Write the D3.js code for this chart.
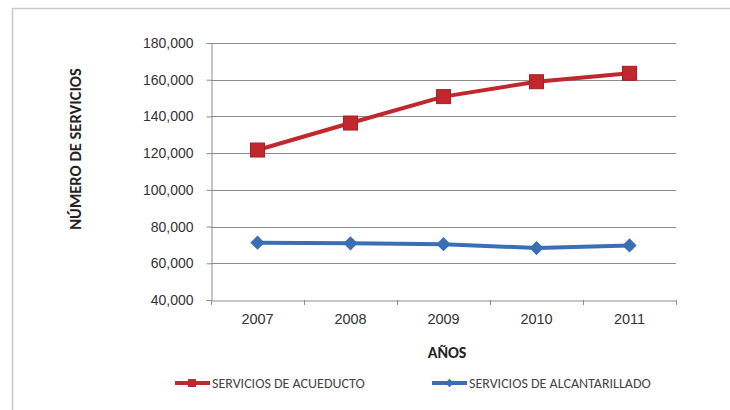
<!DOCTYPE html>
<html><head><meta charset="utf-8">
<script src="https://cdn.jsdelivr.net/npm/d3@7"></script>
<style>body{margin:0;background:#fff;} svg{display:block;font-family:Carlito,"Liberation Sans","Open Sans",sans-serif;}</style>
</head><body><svg id="c" width="730" height="410"></svg>
<script>
const years = ["2007","2008","2009","2010","2011"];
const acueducto = [121700, 136400, 150800, 158900, 163500];
const alcantarillado = [71200, 70900, 70400, 68300, 69700];
const yTicks = [40000,60000,80000,100000,120000,140000,160000,180000];
const seriesNames = ["SERVICIOS DE ACUEDUCTO","SERVICIOS DE ALCANTARILLADO"];

const svg = d3.select("#c");
const m = {l:211, r:676, t:43, b:300};
const x = d3.scaleBand().domain(years).range([m.l, m.r]);
const y = d3.scaleLinear().domain([40000,180000]).range([m.b, m.t]);

// frame
svg.append("rect").attr("x",12.5).attr("y",8.5).attr("width",730).attr("height",410)
  .attr("fill","none").attr("stroke","#c8c8c8").attr("stroke-width",1.5);

// gridlines
svg.append("g").selectAll("line").data(yTicks.slice(1)).join("line")
  .attr("x1",m.l).attr("x2",m.r).attr("y1",d=>Math.round(y(d))+0.5).attr("y2",d=>Math.round(y(d))+0.5)
  .attr("stroke","#8c8c8c").attr("stroke-width",1);

// y axis
const yAx = svg.append("g").attr("transform",`translate(${m.l+0.5},0)`)
  .call(d3.axisLeft(y).tickValues(yTicks).tickSize(5).tickPadding(13).tickFormat(d3.format(",")));
yAx.select(".domain").attr("stroke","#8c8c8c");
yAx.selectAll(".tick line").attr("stroke","#8c8c8c");
yAx.selectAll("text").attr("font-size",14).attr("fill","#333");

// x axis
const xAx = svg.append("g").attr("transform",`translate(0,${m.b+0.5})`)
  .call(d3.axisBottom(x).tickSize(0).tickPadding(13));
xAx.select(".domain").attr("stroke","#8c8c8c");
xAx.selectAll("text").attr("font-size",14.5).attr("fill","#333");
// category boundary ticks
svg.append("g").selectAll("line").data(years.concat(["end"])).join("line")
  .attr("x1",(d,i)=>Math.round(m.l + i*x.bandwidth())+0.5)
  .attr("x2",(d,i)=>Math.round(m.l + i*x.bandwidth())+0.5)
  .attr("y1",m.b).attr("y2",m.b+5).attr("stroke","#8c8c8c");

// axis titles
svg.append("text").attr("transform","translate(81,149) rotate(-90)").attr("text-anchor","middle")
  .attr("font-size",16.5).attr("font-weight","bold").attr("fill","#222").text("NÚMERO DE SERVICIOS");
svg.append("text").attr("x",447).attr("y",358).attr("text-anchor","middle")
  .attr("font-size",16).attr("font-weight","bold").attr("fill","#222").text("AÑOS");

const line = d3.line().x((d,i)=>x(years[i])+x.bandwidth()/2).y(d=>y(d));
const red = "#c0282d", blue = "#3a6fb6";

// red series
svg.append("path").datum(acueducto).attr("d",line).attr("fill","none")
  .attr("stroke",red).attr("stroke-width",4).attr("stroke-linejoin","round");
svg.append("g").selectAll("rect").data(acueducto).join("rect")
  .attr("x",(d,i)=>x(years[i])+x.bandwidth()/2-7).attr("y",d=>y(d)-7)
  .attr("width",14).attr("height",14).attr("fill",red).attr("stroke","#a51f24").attr("stroke-width",1);

// blue series
svg.append("path").datum(alcantarillado).attr("d",line).attr("fill","none")
  .attr("stroke",blue).attr("stroke-width",4).attr("stroke-linejoin","round");
svg.append("g").selectAll("path.m").data(alcantarillado).join("path").attr("class","m")
  .attr("d",d3.symbol(d3.symbolDiamond2,130)())
  .attr("transform",(d,i)=>`translate(${x(years[i])+x.bandwidth()/2},${y(d)})`)
  .attr("fill",blue);

// legend
const leg = [{c:red,x:175,t:seriesNames[0],sq:true},{c:blue,x:432,t:seriesNames[1],sq:false}];
leg.forEach(l=>{
  const g = svg.append("g");
  g.append("line").attr("x1",l.x).attr("x2",l.x+35).attr("y1",383).attr("y2",383).attr("stroke",l.c).attr("stroke-width",4);
  if(l.sq) g.append("rect").attr("x",l.x+13).attr("y",379).attr("width",8).attr("height",8).attr("fill",l.c);
  else g.append("path").attr("d",d3.symbol(d3.symbolDiamond2,45)()).attr("transform",`translate(${l.x+17.5},383)`).attr("fill",l.c);
  g.append("text").attr("x",l.x+37).attr("y",388).attr("font-size",14).attr("fill","#444").text(l.t);
});
</script></body></html>
